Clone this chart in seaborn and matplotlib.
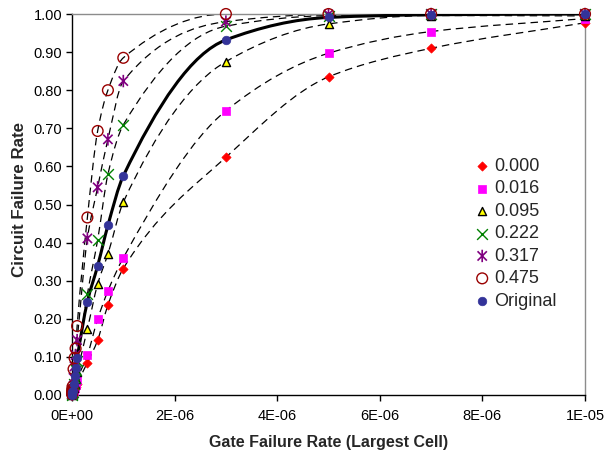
import numpy as np
import pandas as pd
import matplotlib
matplotlib.use("Agg")
import matplotlib.pyplot as plt
from matplotlib.path import Path
from matplotlib.patches import PathPatch
import seaborn as sns

# Gate failure rate of the largest cell (x axis)
gate_rate = [1e-9, 3e-9, 5e-9, 7e-9, 1e-8, 3e-8, 5e-8, 7e-8, 1e-7,
             3e-7, 5e-7, 7e-7, 1e-6, 3e-6, 5e-6, 7e-6, 1e-5]

# Circuit failure rate for each setting
fail_0_000 = [0.0003, 0.001, 0.0015, 0.002, 0.003, 0.009, 0.015, 0.021, 0.030,
              0.085, 0.144, 0.236, 0.332, 0.624, 0.835, 0.910, 0.977]
fail_0_016 = [0.0004, 0.0012, 0.002, 0.0027, 0.004, 0.011, 0.019, 0.027, 0.040,
              0.105, 0.199, 0.273, 0.360, 0.746, 0.897, 0.954, 0.988]
fail_0_095 = [0.0006, 0.0018, 0.003, 0.0042, 0.006, 0.018, 0.030, 0.043, 0.060,
              0.173, 0.291, 0.370, 0.506, 0.875, 0.974, 0.996, 0.995]
fail_0_222 = [0.0009, 0.0027, 0.0045, 0.0063, 0.009, 0.028, 0.045, 0.065, 0.088,
              0.265, 0.407, 0.579, 0.709, 0.968, 0.996, 0.999, 1.000]
fail_0_317 = [0.0015, 0.0045, 0.0075, 0.011, 0.015, 0.045, 0.075, 0.105, 0.144,
              0.411, 0.545, 0.671, 0.824, 0.980, 0.999, 1.000, 1.000]
fail_0_475 = [0.002, 0.007, 0.011, 0.015, 0.022, 0.068, 0.097, 0.122, 0.181,
              0.466, 0.693, 0.800, 0.885, 1.000, 1.000, 1.000, 1.000]
fail_original = [0.001, 0.003, 0.005, 0.007, 0.010, 0.030, 0.050, 0.070, 0.096,
                 0.245, 0.339, 0.445, 0.575, 0.932, 0.991, 0.998, 1.000]

series_labels = ["0.000", "0.016", "0.095", "0.222", "0.317", "0.475", "Original"]

x_ticks = [0, 2e-6, 4e-6, 6e-6, 8e-6, 1e-5]
x_tick_labels = ["0E+00", "2E-06", "4E-06", "6E-06", "8E-06", "1E-05"]
y_ticks = [0.0, 0.1, 0.2, 0.3, 0.4, 0.5, 0.6, 0.7, 0.8, 0.9, 1.0]
y_tick_labels = ["0.00", "0.10", "0.20", "0.30", "0.40", "0.50",
                 "0.60", "0.70", "0.80", "0.90", "1.00"]

sns.set_theme(style="ticks")
plt.rcParams["font.family"] = ["Liberation Sans", "DejaVu Sans"]

# asterisk marker: vertical bar plus a cross
asterisk = Path(
    [(0, -1), (0, 1), (-0.75, -0.75), (0.75, 0.75), (-0.75, 0.75), (0.75, -0.75)],
    [Path.MOVETO, Path.LINETO, Path.MOVETO, Path.LINETO, Path.MOVETO, Path.LINETO],
)

styles = {
    "0.000": dict(marker="D", s=22, color="#FF0000", edgecolor="#FF0000", linewidth=0.5),
    "0.016": dict(marker="s", s=30, color="#FF00FF", edgecolor="#FF00FF", linewidth=0.5),
    "0.095": dict(marker="^", s=34, color="#FFFF00", edgecolor="black", linewidth=1.0),
    "0.222": dict(marker="x", s=60, color="#008000", linewidth=1.0),
    "0.317": dict(marker=asterisk, s=80, facecolor="none", edgecolor="#800080", linewidth=1.2),
    "0.475": dict(marker="o", s=60, facecolor="none", edgecolor="#990000", linewidth=1.0),
    "Original": dict(marker="o", s=38, color="#333399", edgecolor="#333399", linewidth=0.5),
}

values = [fail_0_000, fail_0_016, fail_0_095, fail_0_222, fail_0_317, fail_0_475, fail_original]
frames = {lab: pd.DataFrame({"gate": gate_rate, "circuit": v})
          for lab, v in zip(series_labels, values)}


def smooth_path(x, y):
    """Monotone cubic (PCHIP) curve through the points as Bezier segments."""
    x = np.asarray(x, float)
    y = np.asarray(y, float)
    h = np.diff(x)
    d = np.diff(y) / h
    m = np.zeros_like(y)
    m[0], m[-1] = d[0], d[-1]
    for i in range(1, len(x) - 1):
        if d[i - 1] * d[i] <= 0:
            m[i] = 0.0
        else:
            w1 = 2 * h[i] + h[i - 1]
            w2 = h[i] + 2 * h[i - 1]
            m[i] = (w1 + w2) / (w1 / d[i - 1] + w2 / d[i])
    verts = [(x[0], y[0])]
    codes = [Path.MOVETO]
    for i in range(len(x) - 1):
        verts += [(x[i] + h[i] / 3, y[i] + m[i] * h[i] / 3),
                  (x[i + 1] - h[i] / 3, y[i + 1] - m[i + 1] * h[i] / 3),
                  (x[i + 1], y[i + 1])]
        codes += [Path.CURVE4] * 3
    return Path(verts, codes)


fig = plt.figure(figsize=(6.04, 4.54), dpi=100)
ax = fig.add_axes([72 / 604, 59 / 454, 513 / 604, 381 / 454])

# curves
for lab in series_labels:
    df = frames[lab]
    if lab == "Original":
        patch = PathPatch(smooth_path(df["gate"], df["circuit"]), fill=False,
                          edgecolor="black", linewidth=2.2, zorder=3)
    else:
        patch = PathPatch(smooth_path(df["gate"], df["circuit"]), fill=False,
                          edgecolor="black", linewidth=0.9, linestyle=(0, (6, 4)), zorder=2)
    ax.add_patch(patch)

# markers
for lab in series_labels:
    df = frames[lab]
    sns.scatterplot(data=df, x="gate", y="circuit", ax=ax, label=lab,
                    zorder=4, clip_on=False, **styles[lab])

ax.set_xlim(0, 1e-5)
ax.set_ylim(0, 1.0)
ax.set_xticks(x_ticks)
ax.set_xticklabels(x_tick_labels)
ax.set_yticks(y_ticks)
ax.set_yticklabels(y_tick_labels)
ax.tick_params(axis="both", direction="out", length=4, width=1, color="black",
               labelsize=10.5, labelcolor="black", pad=3)
ax.tick_params(axis="x", pad=6)

for side in ("left", "bottom"):
    ax.spines[side].set_color("black")
    ax.spines[side].set_linewidth(1.0)
for side in ("top", "right"):
    ax.spines[side].set_visible(True)
    ax.spines[side].set_color("#8c8c8c")
    ax.spines[side].set_linewidth(1.0)

ax.set_xlabel("Gate Failure Rate (Largest Cell)", fontsize=11.5, fontweight="bold")
ax.set_ylabel("Circuit Failure Rate", fontsize=12.2, fontweight="bold")
ax.xaxis.set_label_coords(0.5, -0.105)
ax.yaxis.set_label_coords(-0.087, 0.512)

ax.legend(loc="upper left", bbox_to_anchor=(0.782, 0.622), frameon=False,
          fontsize=13, handlelength=1.0, handletextpad=0.15, labelspacing=0.3,
          borderpad=0, borderaxespad=0, scatterpoints=1)

fig.savefig("out.png", dpi=100, facecolor="white")
